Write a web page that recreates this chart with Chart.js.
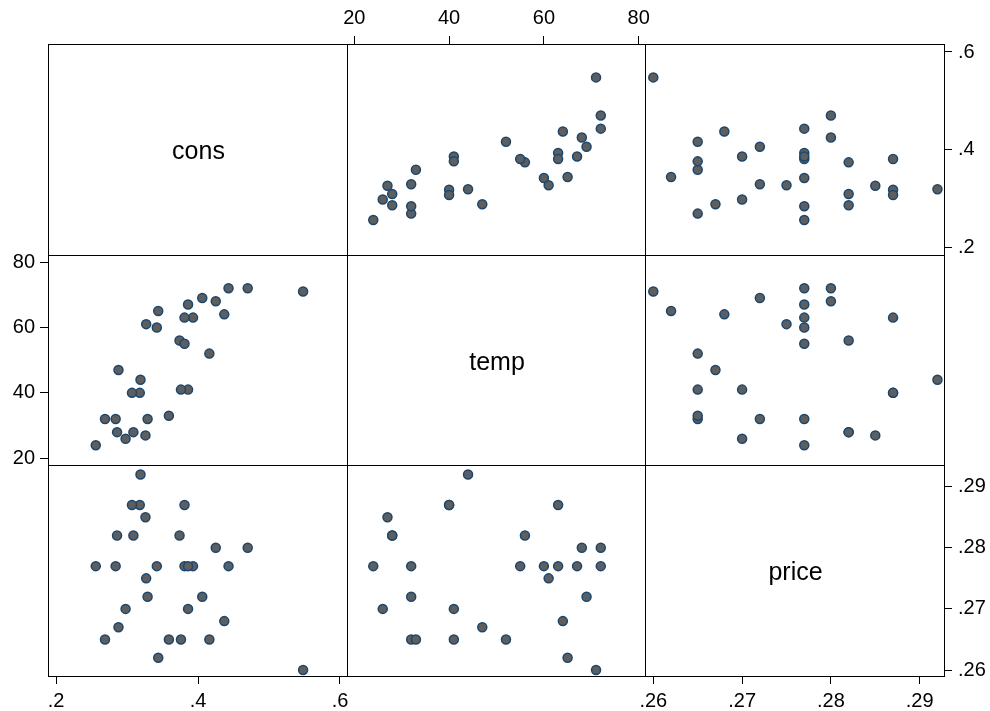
<!DOCTYPE html>
<html>
<head>
<meta charset="utf-8">
<script src="https://cdn.jsdelivr.net/npm/chart.js@4.4.0/dist/chart.umd.min.js"></script>
<style>
  html, body { margin: 0; padding: 0; background: #fff; overflow: hidden; width: 990px; height: 711px; }
  #wrap { position: relative; width: 990px; height: 711px; }
  #wrap canvas { position: absolute; }
</style>
</head>
<body>
<div id="wrap"></div>
<script>
// variables of the scatter matrix, in display order
const varNames = ['cons', 'temp', 'price'];

const cons = [0.386, 0.374, 0.393, 0.425, 0.406, 0.344, 0.327, 0.288, 0.269, 0.256,
              0.286, 0.298, 0.329, 0.318, 0.381, 0.381, 0.470, 0.443, 0.386, 0.342,
              0.319, 0.307, 0.284, 0.326, 0.309, 0.359, 0.376, 0.416, 0.437, 0.548];
const temp = [41, 56, 63, 68, 69, 65, 61, 47, 32, 24,
              28, 26, 32, 40, 55, 63, 72, 72, 67, 60,
              44, 40, 32, 27, 28, 33, 41, 52, 64, 71];
const price = [0.270, 0.282, 0.277, 0.280, 0.272, 0.262, 0.275, 0.267, 0.265, 0.277,
               0.282, 0.270, 0.272, 0.287, 0.277, 0.287, 0.280, 0.277, 0.277, 0.277,
               0.292, 0.287, 0.277, 0.285, 0.282, 0.265, 0.265, 0.265, 0.268, 0.260];

const consTicks = [0.2, 0.4, 0.6];
const consTickLabels = ['.2', '.4', '.6'];
const tempTicks = [20, 40, 60, 80];
const tempTickLabels = ['20', '40', '60', '80'];
const priceTicks = [0.26, 0.27, 0.28, 0.29];
const priceTickLabels = ['.26', '.27', '.28', '.29'];

const series = { cons: cons, temp: temp, price: price };
const tickSets = {
  cons: [consTicks, consTickLabels],
  temp: [tempTicks, tempTickLabels],
  price: [priceTicks, priceTickLabels]
};

// frame lines of the 3x3 grid and the value range each column / row spans
const colX = [48, 347, 645, 944];
const rowY = [44, 255, 465, 676];
const colRange = [[0.18873, 0.60986], [18.46, 81.33], [0.259065, 0.292736]];
const rowRange = [[0.18423, 0.61638], [17.952, 82.14], [0.259018, 0.293552]];

// outer axes alternate sides like Stata's graph matrix
const axisFor = {
  '0,1': { x: 'top' },
  '0,2': { y: 'right' },
  '1,0': { y: 'left' },
  '2,0': { x: 'bottom' },
  '2,2': { x: 'bottom', y: 'right' }
};

const M = 50;   // room round each panel for its axis
const family = "'Liberation Sans', Arial, Helvetica, sans-serif";
const tickPad = { top: 6, bottom: 5, left: 5, right: 6 };

// draws the panel box and, on the diagonal, the variable name
const framePlugin = {
  id: 'frame',
  beforeDatasetsDraw(chart, args, opts) {
    const a = chart.chartArea;
    const ctx = chart.ctx;
    ctx.save();
    ctx.strokeStyle = '#000';
    ctx.lineWidth = 1;
    ctx.strokeRect(a.left + 0.5, a.top + 0.5, a.right - a.left, a.bottom - a.top);
    if (opts.label) {
      ctx.fillStyle = '#000';
      ctx.font = '25px ' + family;
      ctx.textAlign = 'center';
      ctx.textBaseline = 'middle';
      ctx.fillText(opts.label, (a.left + a.right) / 2 + 1, (a.top + a.bottom) / 2 + 3);
    }
    ctx.restore();
  }
};

function scaleOpts(kind, range, pos, name) {
  const o = { type: 'linear', min: range[0], max: range[1], bounds: 'data', display: !!pos };
  if (!pos) return o;
  const vals = tickSets[name][0];
  const labels = tickSets[name][1];
  return Object.assign(o, {
    position: pos,
    border: { display: false },
    grid: { drawOnChartArea: false, drawTicks: true, tickLength: 8, color: '#000', tickColor: '#000', tickWidth: 1 },
    ticks: {
      color: '#000',
      font: { family: family, size: 20 },
      padding: tickPad[pos],
      maxRotation: 0,
      minRotation: 0,
      autoSkip: false,
      callback: (v, i) => labels[i]
    },
    afterBuildTicks: s => { s.ticks = vals.map(v => ({ value: v })); },
    afterFit: s => { if (kind === 'x') s.height = M; else s.width = M; }
  });
}

const wrap = document.getElementById('wrap');

for (let r = 0; r < 3; r++) {
  for (let c = 0; c < 3; c++) {
    const left = colX[c], top = rowY[r];
    const w = colX[c + 1] - left, h = rowY[r + 1] - top;
    const axes = axisFor[r + ',' + c] || {};

    const canvas = document.createElement('canvas');
    canvas.width = w + 2 * M;
    canvas.height = h + 2 * M;
    canvas.style.left = (left - M) + 'px';
    canvas.style.top = (top - M) + 'px';
    wrap.appendChild(canvas);

    const xName = varNames[c], yName = varNames[r];
    const datasets = [];
    if (r !== c) {
      datasets.push({
        data: series[xName].map((x, i) => ({ x: x, y: series[yName][i] })),
        pointRadius: 4.5,
        pointBackgroundColor: '#5e5e5e',
        pointBorderColor: '#1a476f',
        pointBorderWidth: 1.5,
        showLine: false
      });
    }

    new Chart(canvas, {
      type: 'scatter',
      data: { datasets: datasets },
      options: {
        responsive: false,
        animation: false,
        events: [],
        layout: {
          padding: {
            left: axes.y === 'left' ? 0 : M,
            right: axes.y === 'right' ? 0 : M,
            top: axes.x === 'top' ? 0 : M,
            bottom: axes.x === 'bottom' ? 0 : M
          }
        },
        scales: {
          x: scaleOpts('x', colRange[c], axes.x, xName),
          y: scaleOpts('y', rowRange[r], axes.y, yName)
        },
        plugins: {
          legend: { display: false },
          tooltip: { enabled: false },
          frame: { label: r === c ? varNames[r] : '' }
        }
      },
      plugins: [framePlugin]
    });
  }
}
</script>
</body>
</html>
